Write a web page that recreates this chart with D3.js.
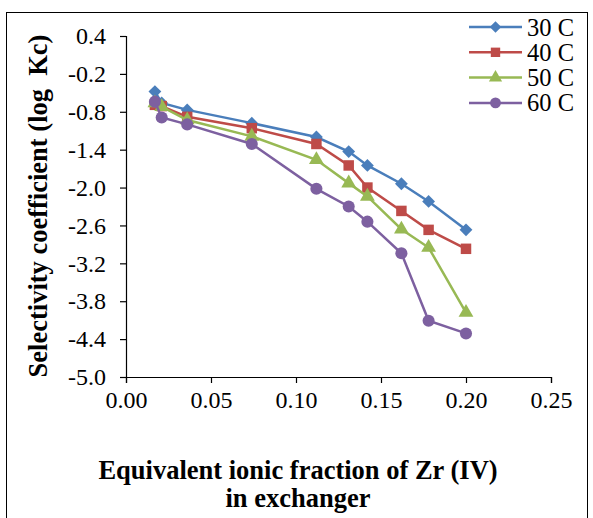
<!DOCTYPE html>
<html>
<head>
<meta charset="utf-8">
<script src="https://cdn.jsdelivr.net/npm/d3@7"></script>
<style>
  body { margin: 0; background: #fff; }
  svg text { font-family: "Liberation Serif", "Times New Roman", serif; fill: #000; }
</style>
</head>
<body>
<svg id="chart" width="593" height="518"></svg>
<script>
// equivalent ionic fraction of Zr(IV) in exchanger
var fractions = [0.017, 0.021, 0.036, 0.074, 0.112, 0.131, 0.142, 0.162, 0.178, 0.200];

// log Kc per temperature
var temps = ['30 C', '40 C', '50 C', '60 C'];
var logKc30 = [-0.48, -0.66, -0.77, -0.98, -1.20, -1.43, -1.65, -1.94, -2.22, -2.67];
var logKc40 = [-0.69, -0.71, -0.88, -1.06, -1.31, -1.65, -2.00, -2.37, -2.67, -2.97];
var logKc50 = [-0.66, -0.72, -0.93, -1.19, -1.56, -1.93, -2.14, -2.66, -2.95, -3.98];
var logKc60 = [-0.64, -0.89, -1.00, -1.31, -2.02, -2.30, -2.54, -3.04, -4.11, -4.31];

var xTicks = [0, 0.05, 0.10, 0.15, 0.20, 0.25];
var yTicks = [0.4, -0.2, -0.8, -1.4, -2.0, -2.6, -3.2, -3.8, -4.4, -5.0];

var colors = ['#4a7ebb', '#be4b48', '#98b954', '#7d60a0'];
var shapes = [d3.symbolDiamond2, d3.symbolSquare, d3.symbolTriangle, d3.symbolCircle];
var sizes = [105, 110, 95, 115];

var series = [logKc30, logKc40, logKc50, logKc60].map(function (vals, i) {
  return { name: temps[i], color: colors[i], shape: shapes[i], size: sizes[i],
    points: vals.map(function (v, j) { return { x: fractions[j], y: v }; }) };
});

var svg = d3.select('#chart');

// outer chart border
svg.append('rect')
  .attr('x', 6.5).attr('y', 12.5)
  .attr('width', 581).attr('height', 520)
  .attr('fill', 'none').attr('stroke', '#000').attr('stroke-width', 1);

var x = d3.scaleLinear().domain([0, 0.25]).range([126, 551]);
var y = d3.scaleLinear().domain([-5.0, 0.4]).range([377, 36]);

var xAxis = d3.axisBottom(x).tickValues(xTicks).tickFormat(d3.format('.2f')).tickSize(6).tickPadding(8);
var yAxis = d3.axisLeft(y).tickValues(yTicks).tickFormat(d3.format('.1f')).tickSize(6).tickPadding(14);

var gx = svg.append('g').attr('transform', 'translate(0,377)').call(xAxis);
var gy = svg.append('g').attr('transform', 'translate(126,0)').call(yAxis);

[gx, gy].forEach(function (g) {
  g.select('.domain').attr('stroke', '#000').attr('stroke-width', 1.2);
  g.selectAll('.tick line').attr('stroke', '#000').attr('stroke-width', 1.2);
  g.selectAll('.tick text')
    .style('font-family', '"Liberation Serif", serif')
    .style('font-size', '24px')
    .attr('fill', '#000');
});
gy.selectAll('.tick text').text(function (d) { return d3.format('.1f')(d).replace('−', '-'); });

var line = d3.line().x(function (d) { return x(d.x); }).y(function (d) { return y(d.y); });

var sg = svg.append('g').selectAll('g').data(series).enter().append('g');

sg.append('path')
  .attr('d', function (d) { return line(d.points); })
  .attr('fill', 'none')
  .attr('stroke', function (d) { return d.color; })
  .attr('stroke-width', 2.5);

sg.each(function (s) {
  d3.select(this).selectAll('path.mk').data(s.points).enter().append('path')
    .attr('class', 'mk')
    .attr('transform', function (d) { return 'translate(' + x(d.x) + ',' + y(d.y) + ')'; })
    .attr('d', d3.symbol().type(s.shape).size(s.size))
    .attr('fill', s.color);
});

// legend
var lg = svg.append('g').selectAll('g').data(series).enter().append('g')
  .attr('transform', function (d, i) { return 'translate(469,' + (27 + i * 25.3) + ')'; });
lg.append('line').attr('x1', 0).attr('x2', 53).attr('stroke', function (d) { return d.color; }).attr('stroke-width', 2.5);
lg.append('path').attr('transform', 'translate(26.5,0)')
  .attr('d', function (d) { return d3.symbol().type(d.shape).size(d.size * 0.8)(); })
  .attr('fill', function (d) { return d.color; });
lg.append('text').attr('x', 58).attr('dy', '0.35em')
  .style('font-size', '24.5px')
  .text(function (d) { return d.name; });

// axis titles
svg.append('text')
  .attr('transform', 'translate(47,206) rotate(-90)')
  .attr('text-anchor', 'middle')
  .style('font-size', '26.5px').style('font-weight', 'bold').style('white-space', 'pre')
  .text('Selectivity coefficient (log  Kc)');

svg.append('text')
  .attr('x', 298).attr('y', 479)
  .attr('text-anchor', 'middle')
  .style('font-size', '26.5px').style('font-weight', 'bold')
  .text('Equivalent ionic fraction of Zr (IV)');
svg.append('text')
  .attr('x', 298).attr('y', 507)
  .attr('text-anchor', 'middle')
  .style('font-size', '26.5px').style('font-weight', 'bold')
  .text('in exchanger');
</script>
</body>
</html>
